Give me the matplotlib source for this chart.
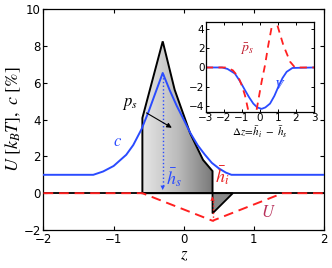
import numpy as np
import matplotlib
matplotlib.use("Agg")
import matplotlib.pyplot as plt
from matplotlib.patches import Polygon

plt.rcParams.update({
    'font.family': 'DejaVu Sans',
    'mathtext.fontset': 'stix',
    'xtick.direction': 'in',
    'ytick.direction': 'in',
    'xtick.top': True,
    'ytick.right': True,
    'axes.linewidth': 0.9,
})

BLUE = '#2a4bff'
RED = '#ff2020'
DARKRED = '#b8305a'

# main panel: profile of the shaded region (black outline)
shape_z = [-0.59, -0.59, -0.30, -0.13, 0.09, 0.275, 0.41, 0.41]
shape_v = [0.0, 4.09, 8.26, 5.63, 3.27, 1.81, 1.20, 0.0]
tri_z = [0.41, 0.41, 0.70]
tri_v = [0.0, -1.10, 0.0]

# concentration c
c_z = [-2.0, -1.29, -1.15, -1.0, -0.82, -0.72, -0.60, -0.50, -0.40, -0.30,
       -0.20, -0.10, 0.0, 0.09, 0.20, 0.30, 0.40, 0.50, 0.60, 0.68, 2.0]
c_v = [1.0, 1.0, 1.18, 1.48, 2.09, 2.62, 3.50, 4.45, 5.50, 6.54,
       5.60, 4.75, 4.00, 3.30, 2.60, 2.10, 1.65, 1.35, 1.12, 1.0, 1.0]

# potential U
u_z = [-2.0, -0.59, 0.41, 1.41, 2.0]
u_v = [0.0, 0.0, -1.5, 0.0, 0.0]

h_s = -0.30
h_i = 0.41

# inset curves
v_dz = [-3.0, -2.1, -1.8, -1.39, -1.1, -0.83, -0.6, -0.37, -0.15, 0.09,
        0.3, 0.56, 0.8, 1.02, 1.25, 1.48, 1.8, 3.0]
v_v = [0.0, 0.0, -0.15, -0.63, -1.45, -2.36, -3.1, -3.75, -4.15, -4.3,
       -4.15, -3.75, -2.95, -2.0, -1.1, -0.45, -0.05, 0.0]
p_dz = [-3.0, -1.85, -1.5, -1.2, -1.0, -0.83, -0.65, -0.5, -0.19, 0.09,
        0.28, 0.46, 0.69, 0.8, 0.93, 1.3, 1.67, 1.94, 3.0]
p_v = [0.0, 0.0, -0.3, -0.98, -1.9, -2.9, -4.45, -5.2, -4.45, -1.5,
       0.24, 2.3, 4.6, 5.1, 4.6, 2.3, 0.6, 0.0, 0.0]

fig = plt.figure(figsize=(3.32, 2.68), dpi=100)
ax = fig.add_axes([0.131, 0.142, 0.845, 0.823])

# gradient-filled region
poly = Polygon(list(zip(shape_z, shape_v)), closed=True, facecolor='none',
               edgecolor='k', lw=1.4, zorder=3)
ax.add_patch(poly)
grad = np.linspace(0, 1, 256).reshape(1, -1)
im = ax.imshow(grad, extent=[-0.59, 0.41, 0, 8.3], aspect='auto',
               cmap=matplotlib.colors.LinearSegmentedColormap.from_list(
                   'g', ['#e6e6e6', '#bcbcbc', '#787878']),
               origin='lower', zorder=2)
im.set_clip_path(poly)
ax.add_patch(Polygon(list(zip(tri_z, tri_v)), closed=True, facecolor='#8a8a8a',
                     edgecolor='k', lw=1.3, zorder=3))

ax.axhline(0, color='k', lw=1.3, zorder=3)
ax.plot(c_z, c_v, color=BLUE, lw=1.4, zorder=4)
ax.plot(u_z, u_v, color=RED, lw=1.4, ls=(0, (5, 3)), zorder=5)

# h_s and h_i arrows
ax.plot([h_s, h_s], [6.5, 0.3], color=BLUE, lw=1.0, ls=':', zorder=4)
ax.annotate('', xy=(h_s, 0.02), xytext=(h_s, 0.6),
            arrowprops=dict(arrowstyle='-|>', color=BLUE, lw=0.01,
                            mutation_scale=8), zorder=6)
ax.plot([h_i, h_i], [-1.5, -0.3], color=RED, lw=1.0, ls=':', zorder=4)
ax.annotate('', xy=(h_i, -0.02), xytext=(h_i, -0.6),
            arrowprops=dict(arrowstyle='-|>', color=RED, lw=0.01,
                            mutation_scale=8), zorder=6)

ax.annotate(r'$p_s$', xy=(-0.17, 3.56), xytext=(-0.77, 4.9), fontsize=12,
            ha='center', va='center',
            arrowprops=dict(arrowstyle='-|>', color='k', lw=0.8,
                            mutation_scale=7, shrinkA=5, shrinkB=0), zorder=6)
ax.text(-0.94, 2.85, r'$c$', color=BLUE, fontsize=12, ha='center', va='center')
ax.text(-0.14, 0.85, r'$\bar{h}_s$', color=BLUE, fontsize=13, ha='center',
        va='center', zorder=6)
ax.text(0.55, 0.95, r'$\bar{h}_i$', color='#e82020', fontsize=13,
        ha='center', va='center', zorder=6)
ax.text(1.2, -1.05, r'$U$', color=DARKRED, fontsize=12, ha='center',
        va='center')

ax.set_xlim(-2, 2)
ax.set_ylim(-2, 10)
ax.set_xticks([-2, -1, 0, 1, 2])
ax.set_yticks([-2, 0, 2, 4, 6, 8, 10])
ax.tick_params(labelsize=8.5, length=3, width=0.8, pad=2)
ax.set_xlabel(r'$z$', fontsize=12, labelpad=0)
ax.set_ylabel(r'$U\ [k_BT],\ c\ [\%]$', fontsize=13, labelpad=0)

# inset
ins = fig.add_axes([0.620, 0.583, 0.326, 0.334])
ins.plot(v_dz, v_v, color=BLUE, lw=1.3)
ins.plot(p_dz, p_v, color=RED, lw=1.3, ls=(0, (4, 3)))
ins.set_xlim(-3, 3)
ins.set_ylim(-4.6, 4.7)
ins.set_xticks([-3, -2, -1, 0, 1, 2, 3])
ins.set_yticks([-4, -2, 0, 2, 4])
ins.tick_params(labelsize=7.5, length=2, width=0.7, pad=1)
ins.text(-0.7, 1.9, r'$\bar{p}_s$', color='#c02030', fontsize=10,
         ha='center', va='center')
ins.text(1.1, -1.8, r'$V$', color=BLUE, fontsize=10, ha='center', va='center')
ins.set_xlabel(r'$\Delta z\!=\!\bar{h}_i\ -\ \bar{h}_s$', fontsize=8,
               labelpad=1)

fig.savefig('out.png', dpi=100)
